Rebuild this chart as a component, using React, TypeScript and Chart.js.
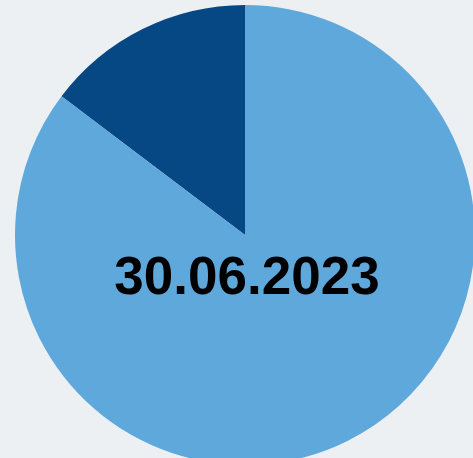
import React, { useEffect, useRef } from "react";
import { Chart, registerables } from "chart.js";

Chart.register(...registerables);

const categories = ["Dark", "Light"];
const values = [14.7, 85.3];
const colors = ["#064884", "#5FA8DC"];
const centerLabel = "30.06.2023";

const centerText = {
  id: "centerText",
  afterDraw(chart: any) {
    const ctx = chart.ctx;
    ctx.save();
    ctx.font = "bold 53px 'Liberation Sans', Arial, sans-serif";
    ctx.fillStyle = "#000000";
    ctx.textAlign = "center";
    ctx.textBaseline = "middle";
    ctx.fillText(centerLabel, 247, 279);
    ctx.restore();
  },
};

export default function App() {
  const ref = useRef<HTMLCanvasElement>(null);
  useEffect(() => {
    const chart = new Chart(ref.current!, {
      type: "pie",
      data: {
        labels: categories,
        datasets: [{ data: values, backgroundColor: colors, borderWidth: 0 }],
      },
      options: {
        animation: false,
        responsive: false,
        layout: { padding: 5 },
        plugins: { legend: { display: false }, tooltip: { enabled: false } },
        rotation: -values[0] / 100 * 360,
      },
      plugins: [centerText],
    });
    return () => chart.destroy();
  }, []);
  return (
    <div style={{ position: "fixed", left: 0, top: 0, width: 473, height: 458, overflow: "hidden", background: "#ECF0F3" }}>
      <canvas ref={ref} width={490} height={470} style={{ display: "block", width: 490, height: 470 }} />
    </div>
  );
}
